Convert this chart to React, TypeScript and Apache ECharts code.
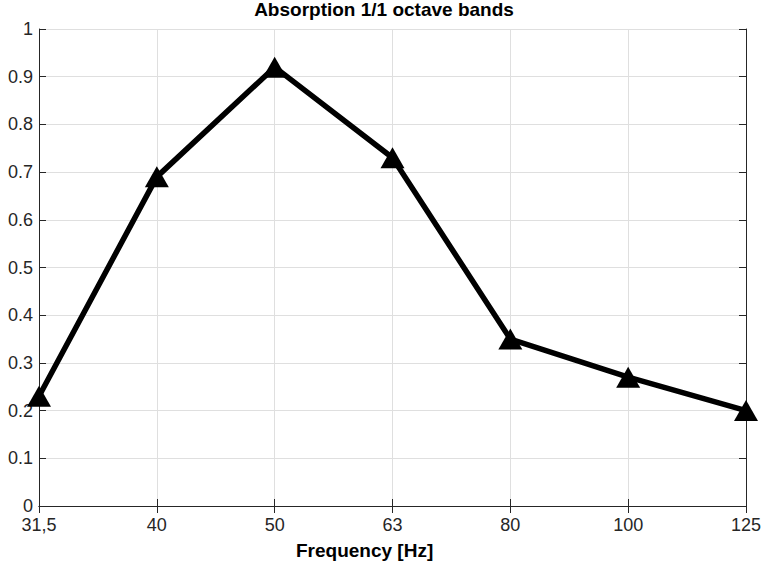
import * as echarts from 'echarts'
import { useEffect, useRef } from 'react'

// octave band centre frequencies and measured absorption
const bands = ['31,5', '40', '50', '63', '80', '100', '125']
const absorption = [0.23, 0.69, 0.92, 0.73, 0.35, 0.27, 0.2]

const axisColor = '#262626'
const font = 'Liberation Sans, Arial, sans-serif'

const AbsorptionChart = () => {
	const chartRef = useRef(null)

	useEffect(() => {
		const myChart = echarts.init(chartRef.current, null, { renderer: 'svg' })

		const option = {
			animation: false,
			backgroundColor: '#ffffff',
			title: [
				{
					text: 'Absorption 1/1 octave bands',
					left: 'center',
					top: 0,
					padding: 0,
					textStyle: { fontFamily: font, fontSize: 19, fontWeight: 'bold', color: '#000' },
				},
				{
					text: 'Frequency [Hz]',
					left: 296,
					top: 541,
					padding: 0,
					textStyle: { fontFamily: font, fontSize: 19, fontWeight: 'bold', color: '#000' },
				},
			],
			grid: { left: 39, right: 22, top: 29, bottom: 62 },
			xAxis: [
				{
					type: 'category',
					data: bands,
					boundaryGap: false,
					axisLine: { lineStyle: { color: axisColor, width: 1 } },
					axisTick: { inside: true, length: 7, alignWithLabel: true, lineStyle: { color: axisColor } },
					axisLabel: { color: axisColor, fontSize: 18, fontFamily: font, margin: 10 },
					splitLine: { show: true, lineStyle: { color: '#dfdfdf', width: 1 } },
				},
				{
					type: 'category',
					data: bands,
					position: 'top',
					boundaryGap: false,
					axisLine: { lineStyle: { color: axisColor, width: 1 } },
					axisTick: { inside: true, length: 7, lineStyle: { color: axisColor } },
					axisLabel: { show: false },
					splitLine: { show: false },
				},
			],
			yAxis: [
				{
					type: 'value',
					min: 0,
					max: 1,
					interval: 0.1,
					axisLine: { show: true, lineStyle: { color: axisColor, width: 1 } },
					axisTick: { show: true, inside: true, length: 7, lineStyle: { color: axisColor } },
					axisLabel: {
						color: axisColor,
						fontSize: 18,
						fontFamily: font,
						margin: 6,
						formatter: (v: number) => String(Math.round(v * 10) / 10),
					},
					splitLine: { show: true, lineStyle: { color: '#dfdfdf', width: 1 } },
				},
				{
					type: 'value',
					min: 0,
					max: 1,
					interval: 0.1,
					position: 'right',
					axisLine: { show: true, lineStyle: { color: axisColor, width: 1 } },
					axisTick: { show: true, inside: true, length: 7, lineStyle: { color: axisColor } },
					axisLabel: { show: false },
					splitLine: { show: false },
				},
			],
			series: [
				{
					type: 'line',
					data: absorption,
					symbol: 'triangle',
					symbolSize: [24, 21],
					lineStyle: { color: '#000', width: 5.5 },
					itemStyle: { color: '#000' },
					z: 5,
				},
			],
		}

		myChart.setOption(option)

		return () => {
			myChart.dispose()
		}
	}, [])

	return (
		<div
			ref={chartRef}
			style={{ position: 'absolute', left: 0, top: 0, width: '768px', height: '568px' }}
		/>
	)
}

export default function App() {
	return <AbsorptionChart />
}
